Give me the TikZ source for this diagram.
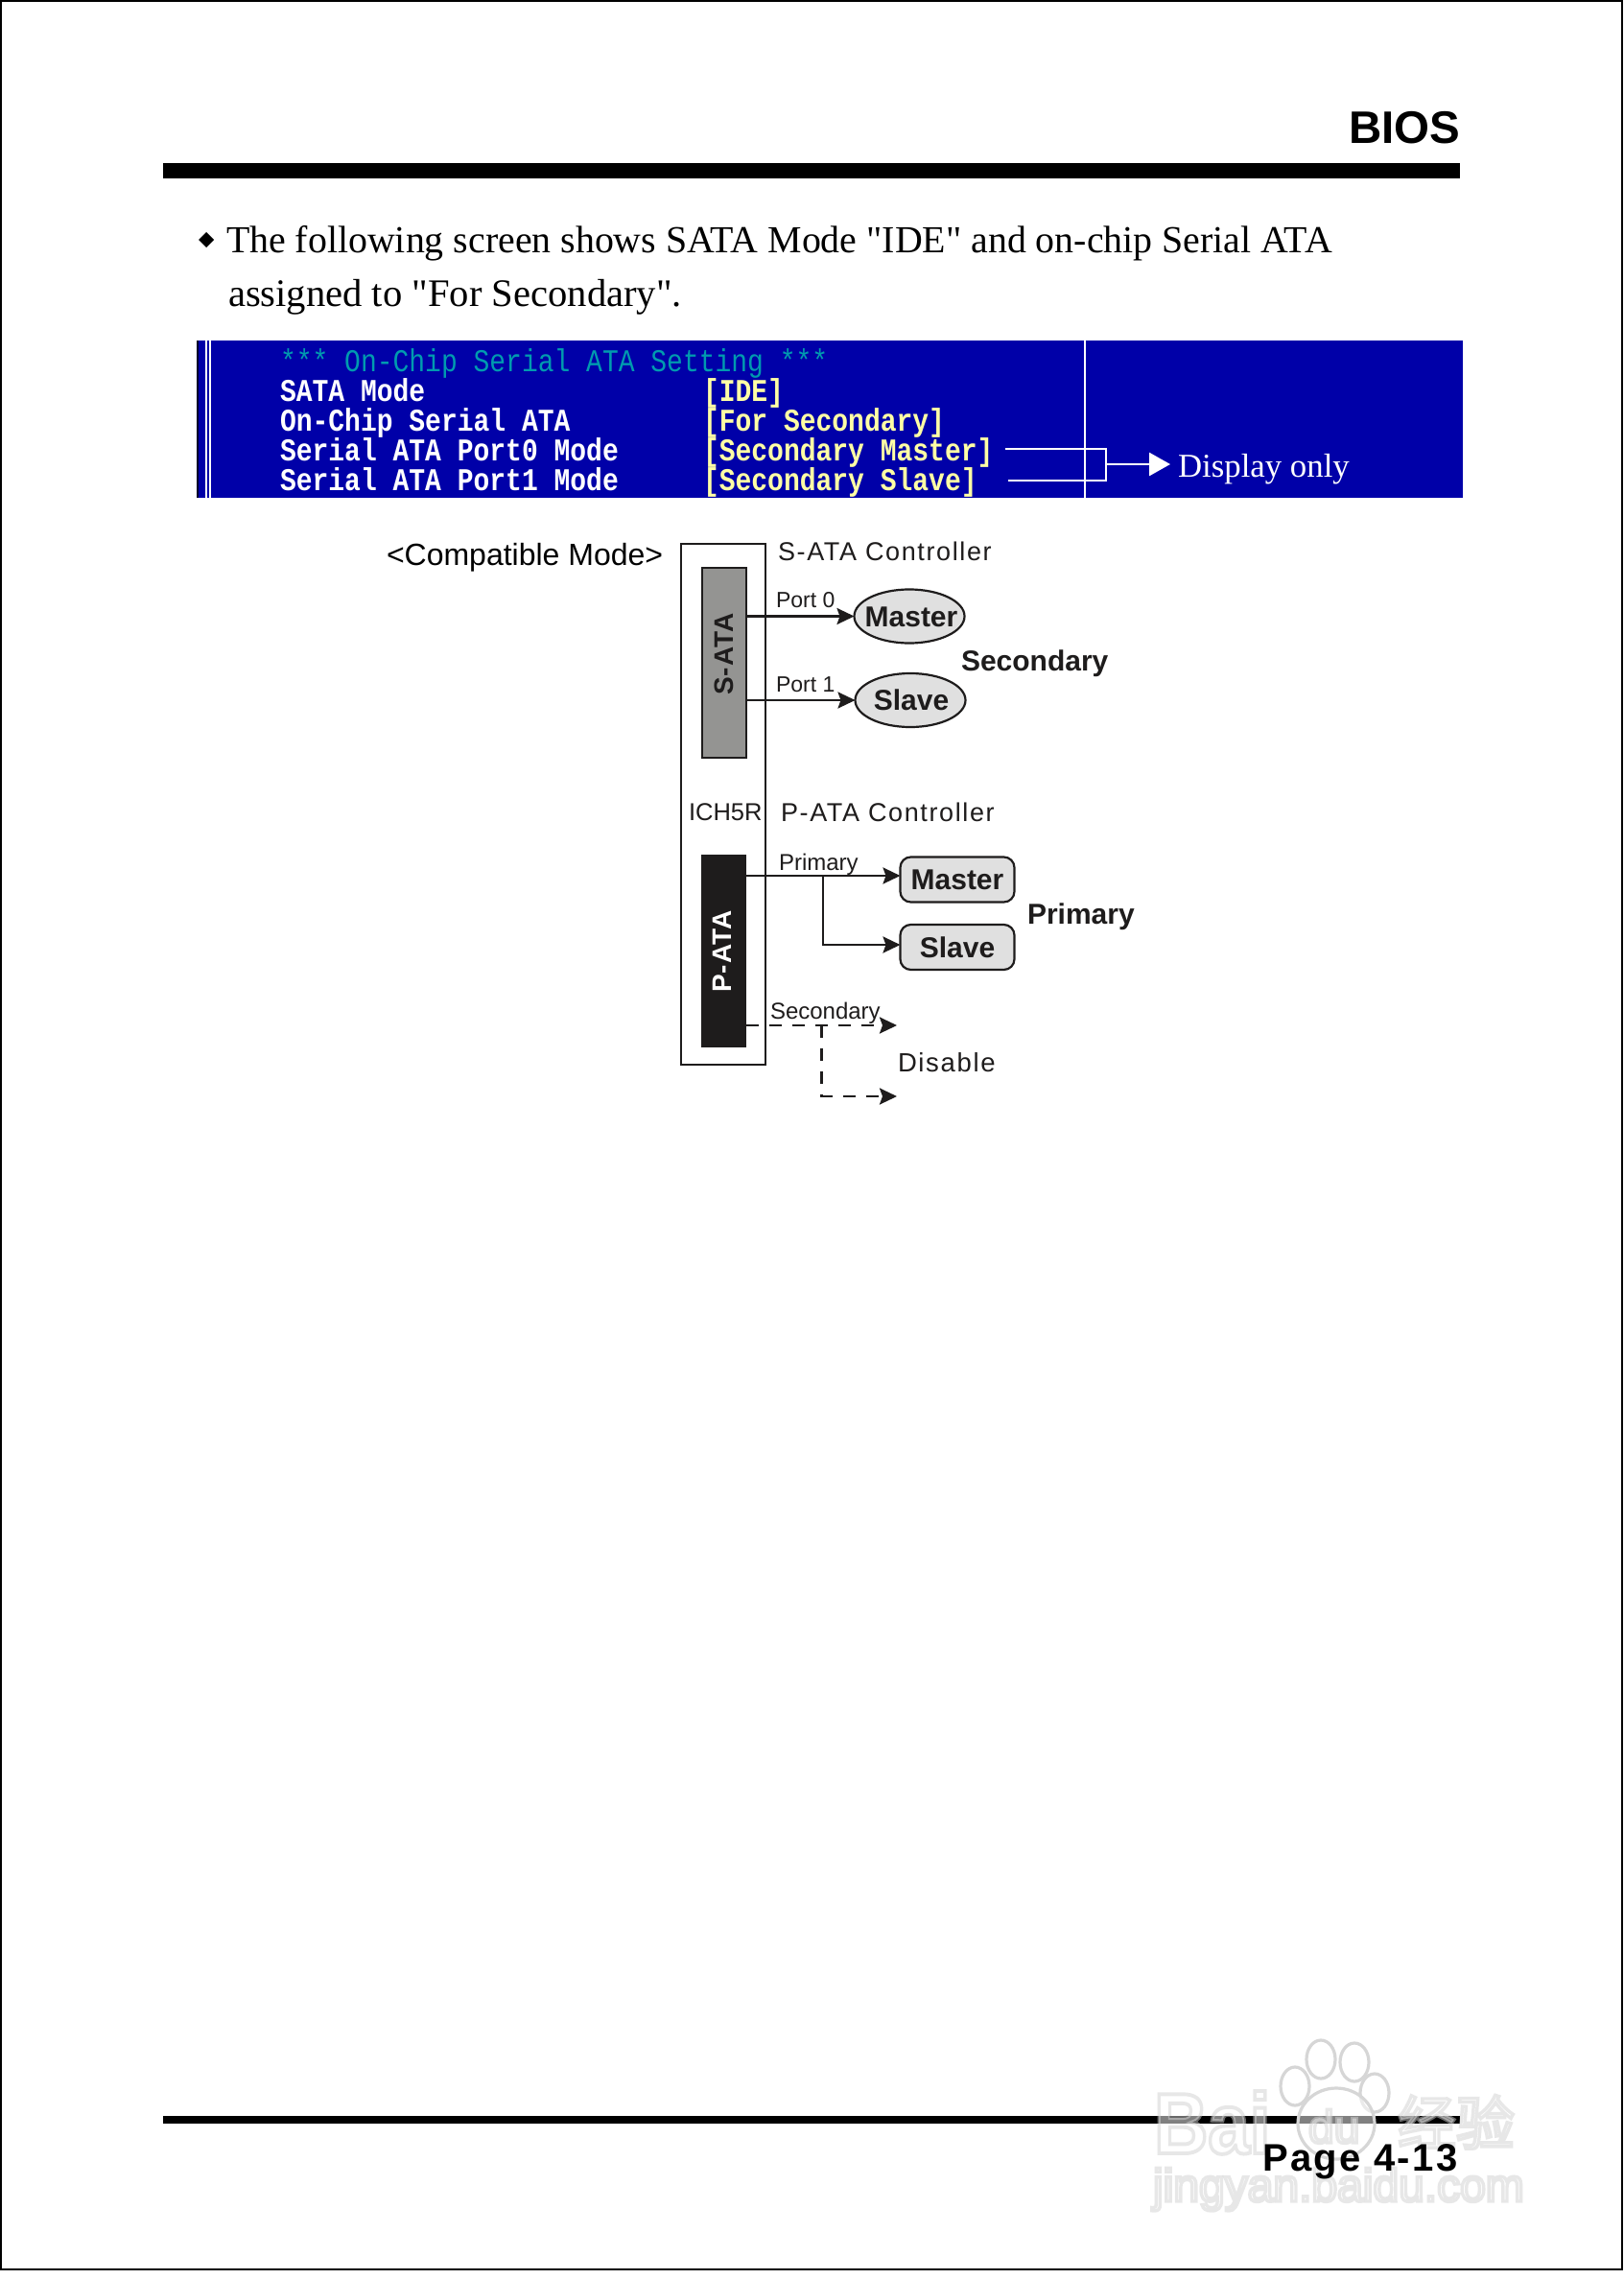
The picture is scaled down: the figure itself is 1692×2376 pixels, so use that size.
\documentclass[tikz,border=0pt]{standalone}
\usepackage{graphicx}
\usepackage{fontspec}
\usetikzlibrary{arrows.meta,shapes.geometric}
\setmainfont{Liberation Sans}
\newfontfamily\bodyfont{Liberation Serif}
\newfontfamily\biosfont{Liberation Mono}
\newfontfamily\lsfont[LetterSpace=6]{Liberation Sans}
\newfontfamily\lsbold[LetterSpace=6]{Liberation Sans Bold}
\newfontfamily\rotbold[LetterSpace=4]{Liberation Sans Bold}
\newfontfamily\cjkfont{Noto Sans CJK SC}
\newcommand{\fsz}[1]{\fontsize{#1}{#1}\selectfont}
\newcommand{\bt}[1]{\scalebox{1}[1.18]{#1}}
\newcommand{\outl}[1]{\special{pdf:bcontent}\special{pdf:code 2 Tr 3.4 w 0.82 G}#1\special{pdf:econtent}}
\definecolor{biosblue}{RGB}{0,0,168}
\definecolor{biosteal}{RGB}{0,155,175}
\definecolor{biosyel}{RGB}{255,255,165}
\definecolor{ink}{RGB}{30,28,28}
\definecolor{chipgray}{RGB}{148,148,146}
\definecolor{devgray}{RGB}{224,224,224}
\definecolor{wmgray}{RGB}{214,214,214}
\tikzset{
  x=1pt,y=-1pt,
  every node/.style={inner sep=0pt,outer sep=0pt},
  lbl/.style={anchor=base west,text=ink},
  body/.style={anchor=base west,text=black,font=\bodyfont\fsz{39.85}},
  biosw/.style={anchor=base west,text=white,font=\biosfont\bfseries\fsz{28}},
  biosv/.style={anchor=base west,text=biosyel,font=\biosfont\bfseries\fsz{28}},
  conn/.style={draw=ink,line width=2.5pt,-{Stealth[length=18pt,width=17pt,inset=3pt]}},
  dconn/.style={conn,dash pattern=on 13pt off 11pt},
  ell/.style={ellipse,draw=ink,fill=devgray,line width=2.2pt,minimum width=115pt,minimum height=56pt},
  elab/.style={font=\bfseries\fsz{30},text=ink},
  rbox/.style={rectangle,rounded corners=11pt,draw=ink,fill=devgray,line width=2.2pt,font=\bfseries\fsz{30},text=ink,minimum width=119pt,minimum height=47pt},
  wm/.style={anchor=base west,text=white,text opacity=0.5},
  pad/.style={ellipse,draw=wmgray,line width=3.2pt,fill=white,fill opacity=0.5,minimum width=30pt,minimum height=40pt},
}
\begin{document}
\begin{tikzpicture}
\useasboundingbox (0,0) rectangle (1692,2376);
\fill[white] (0,0) rectangle (1692,2376);
\draw[black,line width=2.5pt] (1,1) rectangle (1691,2366);
% header and footer
\fill[black] (170,170) rectangle (1522,186);
\fill[black] (170,2206) rectangle (1522,2214);
\node[lbl,text=black,font=\bfseries\fsz{47.5}] (bios) at (1406,150) {BIOS};
% intro
\fill[black] (215,242) -- (223,250) -- (215,258) -- (207,250) -- cycle;
\node[body] (l1) at (236,263) {The following screen shows SATA Mode "IDE" and on-chip Serial ATA};
\node[body,font=\bodyfont\fsz{40.6}] (l2) at (238,319) {assigned to "For Secondary".};
% BIOS screen
\fill[biosblue] (205,355) rectangle (1525,519);
\fill[black!75!biosblue] (205,355) rectangle (207,519);
\fill[white] (214,355) rectangle (216,519);
\fill[white] (218,355) rectangle (220,519);
\draw[white,line width=1.5pt] (1131,355) -- (1131,519);
\node[biosw,text=biosteal,font=\biosfont\fsz{28}] (b0) at (292,387.5) {\bt{*** On-Chip Serial ATA Setting ***}};
\node[biosw] (b1) at (292,418.5) {\bt{SATA Mode}};
\node[biosw] (b2) at (292,449.5) {\bt{On-Chip Serial ATA}};
\node[biosw] (b3) at (292,480.5) {\bt{Serial ATA Port0 Mode}};
\node[biosw] (b4) at (292,511.5) {\bt{Serial ATA Port1 Mode}};
\node[biosv] (v1) at (733,418.5) {\bt{[IDE]}};
\node[biosv] (v2) at (733,449.5) {\bt{[For Secondary]}};
\node[biosv] (v3) at (733,480.5) {\bt{[Secondary Master]}};
\node[biosv] (v4) at (733,511.5) {\bt{[Secondary Slave]}};
\node[anchor=base west,text=white,font=\bodyfont\fsz{34.8}] (disp) at (1228,497) {Display only};
\coordinate (j3) at (1048,468);
\coordinate (j4) at (1051,501);
\coordinate (jc) at (1153,468);
\coordinate (jd) at (1153,501);
\coordinate (jm) at (1153,484);
\coordinate (jt) at (1220,484);
\draw[white,line width=1.5pt] (j3) -- (jc) -- (jd) -- (j4);
\draw[white,line width=2.8pt,-{Triangle[length=22pt,width=24pt]}] (jm) -- (jt);
% diagram
\node[lbl,text=black,font=\fsz{32}] (compat) at (403,589) {<Compatible Mode>};
\node[draw=ink,line width=2.4pt,fill=white,minimum width=88pt,minimum height=543pt] (chip) at (754,838.5) {};
\node[draw=ink,line width=2pt,fill=chipgray,minimum width=46pt,minimum height=198pt] (sata) at (754.5,691) {};
\node[rotate=90,font=\rotbold\fsz{28},text=ink] (satal) at (755,682) {S-ATA};
\node[fill=ink,minimum width=47pt,minimum height=201pt] (pata) at (754,991.5) {};
\node[rotate=90,font=\rotbold\fsz{28},text=white] (patal) at (753,992) {P-ATA};
\node[lbl,font=\lsfont\fsz{27}] (sc) at (811,584) {S-ATA Controller};
\node[lbl,font=\lsfont\fsz{27}] (pc) at (814,856) {P-ATA Controller};
\node[lbl,font=\fsz{25.5}] (ich) at (718,855) {ICH5R};
\node[lbl,font=\fsz{23}] (p0) at (809,633) {Port 0};
\node[lbl,font=\fsz{23}] (p1) at (809,721) {Port 1};
\node[ell] (em) at (948,642.5) {};
\node[elab] (eml) at (950,643) {Master};
\node[ell] (es) at (949,730) {};
\node[elab] (esl) at (950,730) {Slave};
\node[lbl,font=\bfseries\fsz{30}] (secb) at (1002,699) {Secondary};
\node[lbl,font=\bfseries\fsz{30}] (prib) at (1071,963) {Primary};
\node[lbl,font=\fsz{24}] (pris) at (812,907) {Primary};
\node[lbl,font=\fsz{24}] (secs) at (803,1062) {Secondary};
\node[lbl,font=\lsfont\fsz{27.5}] (dis) at (936,1117) {Disable};
\node[rbox] (rm) at (998,917) {Master};
\node[rbox] (rs) at (998,987.5) {Slave};
\draw[conn] (em.west -| sata.east) -- (em.west);
\draw[conn] (es.west -| sata.east) -- (es.west);
\coordinate (pa) at (pata.east |- 0,913);
\coordinate (pb) at (858,913);
\coordinate (pc1) at (858,985);
\coordinate (ptip) at (rm.west |- 0,913);
\coordinate (stip) at (rs.west |- 0,985);
\draw[conn] (pa) -- (ptip);
\draw[conn] (pb) -- (pc1) -- (stip);
\coordinate (da) at (pata.east |- 0,1069);
\coordinate (dtip) at (935,1069);
\coordinate (dc) at (856.5,1069);
\coordinate (dd) at (856.5,1143);
\coordinate (dtip2) at (935,1143);
\draw[dconn] (da) -- (dtip);
\draw[dconn] (dc) -- (dd) -- (dtip2);
% watermark
\node[pad] (w1) at (1350,2175) {};
\node[pad] (w2) at (1377,2147) {};
\node[pad] (w3) at (1412,2150) {};
\node[pad] (w4) at (1433,2182) {};
\node[pad,minimum width=80pt,minimum height=74pt] (w0) at (1393,2214) {};
\node[wm,font=\bfseries\fsz{78}] (wb) at (1203,2245) {\scalebox{1}[1.15]{\outl{Bai}}};
\node[wm,font=\fsz{48}] (wd) at (1364,2234) {\outl{du}};
\node[wm,font=\cjkfont\fsz{61}] (wj) at (1457,2236) {\outl{经验}};
\node[wm,font=\fsz{48}] (wu) at (1202,2295) {\outl{jingyan.baidu.com}};
\node[lbl,text=black,font=\lsbold\fsz{40}] (page) at (1316,2263) {Page 4-13};
\end{tikzpicture}
\end{document}
